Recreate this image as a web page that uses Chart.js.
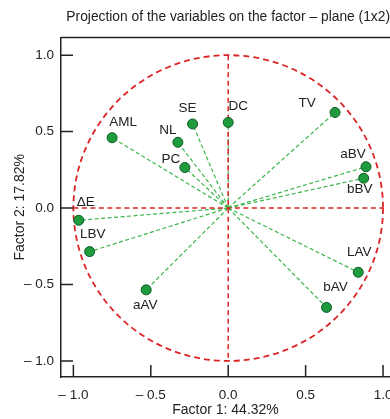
<!DOCTYPE html>
<html>
<head>
<meta charset="utf-8">
<script src="https://cdn.jsdelivr.net/npm/chart.js@4/dist/chart.umd.min.js"></script>
<style>
    html, body { margin: 0; padding: 0; background: #fff; }
    #wrap { width: 390px; height: 419px; }
</style>
</head>
<body>
<div id="wrap"><canvas id="pcaChart"></canvas></div>
<script>
// variable loadings on factor 1 / factor 2
const variables = ['AML', 'SE', 'DC', 'NL', 'PC', 'TV', 'aBV', 'bBV', 'ΔE', 'LBV', 'aAV', 'LAV', 'bAV'];
const factor1 = [-0.75, -0.23, 0.0, -0.325, -0.28, 0.69, 0.89, 0.875, -0.965, -0.895, -0.53, 0.84, 0.635];
const factor2 = [0.46, 0.55, 0.56, 0.43, 0.265, 0.625, 0.27, 0.195, -0.08, -0.285, -0.535, -0.42, -0.65];

const tickValues = [-1.0, -0.5, 0.0, 0.5, 1.0];

// label placement around each point (px offset from the dot)
const labelOffsets = {
    'AML': [11, -15], 'SE': [-5, -16], 'DC': [10, -16], 'NL': [-10, -12],
    'PC': [-14, -8], 'TV': [-28, -9], 'aBV': [-13, -12], 'bBV': [-4, 11],
    'ΔE': [7, -18], 'LBV': [3, -17], 'aAV': [-1, 15], 'LAV': [1, -20], 'bAV': [9, -20]
};

const RED = '#dc2424';
const GREEN_LINE = '#3cb54a';
const FONT = 'Liberation Sans, Arial, Helvetica, sans-serif';

const fmtTick = v => (v < 0 ? '\u2013 ' + Math.abs(v).toFixed(1) : v.toFixed(1));

const points = variables.map((name, i) => ({ x: factor1[i], y: factor2[i], name }));

// circle, cross lines, rays, frame and inward ticks
const backdrop = {
    id: 'backdrop',
    beforeDatasetsDraw(chart) {
        const { ctx, chartArea, scales: { x, y } } = chart;
        const cx = x.getPixelForValue(0), cy = y.getPixelForValue(0);
        const rx = x.getPixelForValue(1) - cx, ry = cy - y.getPixelForValue(1);
        ctx.save();

        // rays from origin
        ctx.strokeStyle = GREEN_LINE;
        ctx.lineWidth = 1.2;
        ctx.setLineDash([4, 2.5]);
        points.forEach(p => {
            ctx.beginPath();
            ctx.moveTo(cx, cy);
            ctx.lineTo(x.getPixelForValue(p.x), y.getPixelForValue(p.y));
            ctx.stroke();
        });

        // unit circle + axes
        ctx.strokeStyle = RED;
        ctx.lineWidth = 1.8;
        ctx.setLineDash([6, 4]);
        ctx.beginPath();
        ctx.ellipse(cx, cy, rx, ry, 0, 0, Math.PI * 2);
        ctx.stroke();
        ctx.lineWidth = 1.5;
        ctx.setLineDash([5, 3.5]);
        ctx.beginPath();
        ctx.moveTo(x.getPixelForValue(-1), cy);
        ctx.lineTo(x.getPixelForValue(1), cy);
        ctx.moveTo(cx, y.getPixelForValue(1));
        ctx.lineTo(cx, y.getPixelForValue(-1));
        ctx.stroke();

        // frame: top border, inward tick marks
        ctx.setLineDash([]);
        ctx.strokeStyle = '#222';
        ctx.lineWidth = 1.5;
        ctx.beginPath();
        ctx.moveTo(chartArea.left, chartArea.top);
        ctx.lineTo(chart.width, chartArea.top);
        tickValues.forEach(v => {
            const py = y.getPixelForValue(v);
            ctx.moveTo(chartArea.left, py);
            ctx.lineTo(chartArea.left + 12, py);
            const px = x.getPixelForValue(v);
            ctx.moveTo(px, chartArea.bottom);
            ctx.lineTo(px, chartArea.bottom - 12);
        });
        ctx.stroke();
        ctx.restore();
    },
    afterDatasetsDraw(chart) {
        const { ctx, scales: { x, y } } = chart;
        ctx.save();
        ctx.font = '13.5px ' + FONT;
        ctx.fillStyle = '#222';
        ctx.textAlign = 'center';
        ctx.textBaseline = 'middle';
        points.forEach(p => {
            const off = labelOffsets[p.name] || [0, -14];
            ctx.fillText(p.name, x.getPixelForValue(p.x) + off[0], y.getPixelForValue(p.y) + off[1]);
        });
        ctx.restore();
    }
};

new Chart(document.getElementById('pcaChart'), {
    type: 'scatter',
    data: {
        datasets: [{
            data: points,
            pointStyle: 'circle',
            pointRadius: 5,
            pointHoverRadius: 5,
            backgroundColor: '#1e9b3c',
            borderColor: '#0c5a22',
            borderWidth: 1
        }]
    },
    options: {
        responsive: true,
        maintainAspectRatio: false,
        animation: false,
        layout: { padding: 0, autoPadding: false },
        plugins: {
            legend: { display: false },
            tooltip: { enabled: false },
            title: {
                display: true,
                text: 'Projection of the variables on the factor \u2013 plane (1x2)',
                align: 'end',
                color: '#222',
                font: { family: FONT, size: 13.8, weight: 'normal' },
                padding: { top: 9, bottom: 12 }
            }
        },
        scales: {
            x: {
                type: 'linear',
                min: -1.08,
                max: 1.045,
                afterBuildTicks: s => { s.ticks = tickValues.map(v => ({ value: v })); },
                afterFit: s => { s.height = 42; s.paddingLeft = 0; s.paddingRight = 0; },
                grid: { display: false, drawTicks: false },
                border: { display: true, color: '#222', width: 1.5 },
                ticks: {
                    padding: 10,
                    color: '#222',
                    font: { family: FONT, size: 13.5 },
                    maxRotation: 0,
                    callback: fmtTick
                },
                title: {
                    display: true,
                    text: 'Factor 1: 44.32%',
                    color: '#222',
                    font: { family: FONT, size: 14 },
                    padding: { top: 0, bottom: 0 }
                }
            },
            y: {
                type: 'linear',
                min: -1.105,
                max: 1.115,
                afterBuildTicks: s => { s.ticks = tickValues.map(v => ({ value: v })); },
                afterFit: s => { s.width = 61; s.paddingTop = 0; s.paddingBottom = 0; },
                grid: { display: false, drawTicks: false },
                border: { display: true, color: '#222', width: 1.5 },
                ticks: {
                    padding: 7,
                    color: '#222',
                    font: { family: FONT, size: 13.5 },
                    callback: fmtTick
                },
                title: {
                    display: true,
                    text: 'Factor 2: 17.82%',
                    color: '#222',
                    font: { family: FONT, size: 14 },
                    padding: { top: 12, bottom: 0 }
                }
            }
        }
    },
    plugins: [backdrop]
});
</script>
</body>
</html>
